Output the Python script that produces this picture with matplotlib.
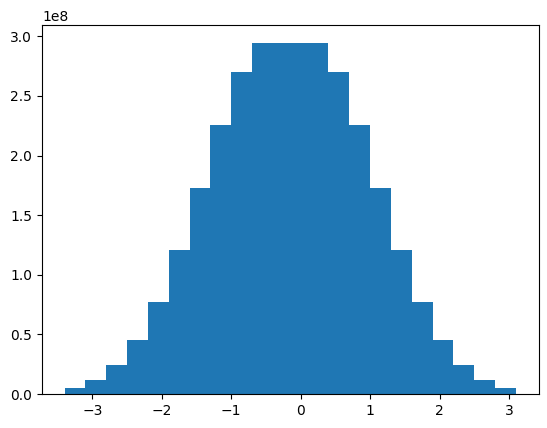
import matplotlib
matplotlib.use("Agg")
import matplotlib.pyplot as plt
import numpy as np

# Bin edges (irregular: wide flat central bin)
bin_edges = [-3.4, -3.1, -2.8, -2.5, -2.2, -1.9, -1.6, -1.3, -1.0, -0.7,
             0.4, 0.7, 1.0, 1.3, 1.6, 1.9, 2.2, 2.5, 2.8, 3.1]
# Bar heights (counts)
counts = [0.050e8, 0.117e8, 0.245e8, 0.452e8, 0.770e8, 1.206e8, 1.725e8, 2.253e8, 2.697e8,
          2.948e8,
          2.697e8, 2.253e8, 1.725e8, 1.206e8, 0.770e8, 0.452e8, 0.245e8, 0.117e8, 0.050e8]

W, H = 547, 428
fig = plt.figure(figsize=(W / 100, H / 100), dpi=100)
ax = fig.add_axes([42 / W, (H - 394) / H, 496.5 / W, 369 / H])

ax.hist(bin_edges[:-1], bins=bin_edges, weights=counts, color="#1f77b4")

fig.savefig("out.png", dpi=100)
